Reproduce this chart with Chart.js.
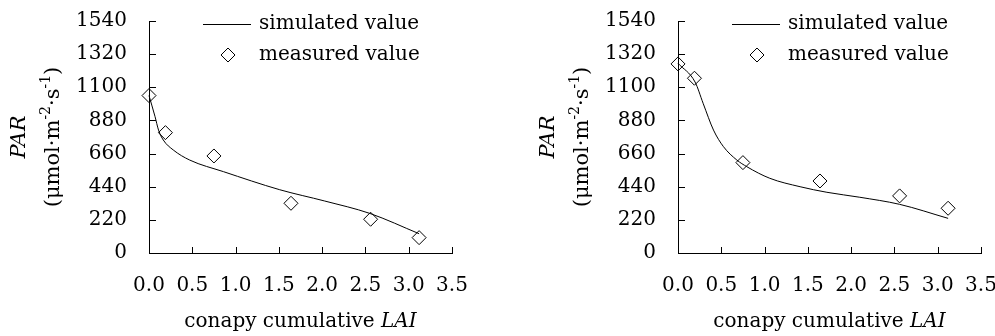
<!DOCTYPE html>
<html>
<head>
<meta charset="utf-8">
<script src="https://cdn.jsdelivr.net/npm/chart.js@4.4.0/dist/chart.umd.min.js"></script>
<style>
  body { margin: 0; width: 995px; height: 336px; overflow: hidden; position: relative; background: #fff; }
  canvas { position: absolute; top: 0; }
</style>
</head>
<body>
<canvas id="chartA" width="480" height="336" style="left:0px"></canvas>
<canvas id="chartB" width="480" height="336" style="left:529px"></canvas>
<script>
// measured points (same LAI depths in both panels)
const measuredLAI = [0.0, 0.19, 0.75, 1.64, 2.56, 3.12];
const measuredA = [1045, 799, 644, 330, 224, 102];
const measuredB = [1255, 1160, 600, 478, 379, 297];

// simulated curves
const simLAI_A = [0.0, 0.07, 0.11, 0.165, 0.28, 0.47, 0.86, 1.51, 2.03, 2.55, 3.12];
const simA = [1045, 905, 816, 750, 684, 617, 540, 420, 345, 263, 128];
const simLAI_B = [0.0, 0.197, 0.29, 0.41, 0.525, 0.68, 0.795, 1.06, 1.41, 1.72, 2.10, 2.56, 3.12];
const simB = [1259, 1135, 994, 816, 706, 617, 573, 496, 440, 403, 370, 323, 230];

const yTicks = [0, 220, 440, 660, 880, 1100, 1320, 1540];
const xTicks = [0.0, 0.5, 1.0, 1.5, 2.0, 2.5, 3.0, 3.5];

const FONT = "'DejaVu Serif', serif";
const FS = 20;

function toPoints(xs, ys) {
  return xs.map((x, i) => ({ x: x, y: ys[i] }));
}

// tick marks pointing into the plot area
const innerTicks = {
  id: "innerTicks",
  afterDraw(chart) {
    const ctx = chart.ctx;
    const area = chart.chartArea;
    const xs = chart.scales.x;
    const ys = chart.scales.y;
    ctx.save();
    ctx.strokeStyle = "#000";
    ctx.lineWidth = 1;
    ctx.beginPath();
    xTicks.forEach((v) => {
      const px = Math.round(xs.getPixelForValue(v)) + 0.5;
      ctx.moveTo(px, area.bottom);
      ctx.lineTo(px, area.bottom - 6);
    });
    yTicks.forEach((v) => {
      const py = Math.round(ys.getPixelForValue(v)) + 0.5;
      ctx.moveTo(area.left, py);
      ctx.lineTo(area.left + 7, py);
    });
    ctx.stroke();
    ctx.restore();
  },
};

// axis titles with italic parts and superscripts
const axisTitles = {
  id: "axisTitles",
  afterDraw(chart) {
    const ctx = chart.ctx;
    const area = chart.chartArea;
    ctx.save();
    ctx.fillStyle = "#000";
    ctx.textBaseline = "middle";

    // x title: "conapy cumulative " + italic "LAI"
    const part1 = "conapy cumulative ";
    const part2 = "LAI";
    ctx.font = FS + "px " + FONT;
    const w1 = ctx.measureText(part1).width;
    ctx.font = "italic " + FS + "px " + FONT;
    const w2 = ctx.measureText(part2).width;
    let x0 = (area.left + area.right) / 2 - (w1 + w2) / 2;
    ctx.textAlign = "left";
    ctx.font = FS + "px " + FONT;
    ctx.fillText(part1, x0, 322);
    ctx.font = "italic " + FS + "px " + FONT;
    ctx.fillText(part2, x0 + w1, 322);

    // y title, rotated
    const cy = 137;
    ctx.translate(area.left - 129, cy);
    ctx.rotate(-Math.PI / 2);
    ctx.textAlign = "center";
    ctx.font = "italic " + (FS + 1) + "px " + FONT;
    ctx.fillText("PAR", 0, 0);

    const pieces = [
      { t: "(μmol·m", sup: false },
      { t: "-2", sup: true },
      { t: "·s", sup: false },
      { t: "-1", sup: true },
      { t: ")", sup: false },
    ];
    const supFont = "14px " + FONT;
    const normFont = (FS + 1) + "px " + FONT;
    let total = 0;
    pieces.forEach((p) => {
      ctx.font = p.sup ? supFont : normFont;
      p.w = ctx.measureText(p.t).width;
      total += p.w;
    });
    let px = -total / 2;
    ctx.textAlign = "left";
    pieces.forEach((p) => {
      ctx.font = p.sup ? supFont : normFont;
      ctx.fillText(p.t, px, p.sup ? 26 : 34);
      px += p.w;
    });
    ctx.restore();
  },
};

// legend in the top right of the plot
const cornerLegend = {
  id: "cornerLegend",
  afterDraw(chart) {
    const ctx = chart.ctx;
    const left = chart.chartArea.left;
    ctx.save();
    ctx.strokeStyle = "#000";
    ctx.lineWidth = 1;
    ctx.beginPath();
    ctx.moveTo(left + 54, 24.5);
    ctx.lineTo(left + 102, 24.5);
    ctx.stroke();
    const dx = left + 79, dy = 55, r = 7;
    ctx.beginPath();
    ctx.moveTo(dx, dy - r);
    ctx.lineTo(dx + r, dy);
    ctx.lineTo(dx, dy + r);
    ctx.lineTo(dx - r, dy);
    ctx.closePath();
    ctx.stroke();
    ctx.fillStyle = "#000";
    ctx.font = FS + "px " + FONT;
    ctx.textAlign = "left";
    ctx.textBaseline = "middle";
    ctx.fillText(chart.data.datasets[0].label, left + 110, 24);
    ctx.fillText(chart.data.datasets[1].label, left + 110, 55);
    ctx.restore();
  },
};

function makeChart(id, simX, simY, measY) {
  const ctx = document.getElementById(id).getContext("2d");
  return new Chart(ctx, {
    type: "scatter",
    data: {
      datasets: [
        {
          label: "simulated value",
          data: toPoints(simX, simY),
          showLine: true,
          borderColor: "#000",
          borderWidth: 1,
          pointRadius: 0,
          cubicInterpolationMode: "monotone",
          clip: false,
        },
        {
          label: "measured value",
          data: toPoints(measuredLAI, measY),
          showLine: false,
          pointStyle: "rectRot",
          pointRadius: 7,
          pointBorderWidth: 1,
          pointBorderColor: "#000",
          pointBackgroundColor: "rgba(0,0,0,0)",
          clip: false,
        },
      ],
    },
    options: {
      responsive: false,
      animation: false,
      layout: { padding: { top: 21, right: 28, left: 0, bottom: 0 } },
      plugins: { legend: { display: false }, tooltip: { enabled: false } },
      scales: {
        x: {
          type: "linear",
          min: 0,
          max: 3.5,
          afterBuildTicks: (scale) => {
            scale.ticks = xTicks.map((v) => ({ value: v }));
          },
          ticks: {
            callback: (v) => Number(v).toFixed(1),
            color: "#000",
            font: { family: FONT, size: FS },
            padding: 21,
            maxRotation: 0,
          },
          grid: { display: true, drawOnChartArea: false, drawTicks: false },
          border: { display: true, color: "#000", width: 1 },
          afterFit: (scale) => {
            scale.height = 83;
            scale.paddingLeft = 0;
            scale.paddingRight = 0;
          },
        },
        y: {
          type: "linear",
          min: 0,
          max: 1540,
          afterBuildTicks: (scale) => {
            scale.ticks = yTicks.map((v) => ({ value: v }));
          },
          ticks: {
            callback: (v) => String(v),
            color: "#000",
            font: { family: FONT, size: FS },
            padding: 22,
          },
          grid: { display: true, drawOnChartArea: false, drawTicks: false },
          border: { display: true, color: "#000", width: 1 },
          afterFit: (scale) => {
            scale.width = 149;
            scale.paddingTop = 0;
            scale.paddingBottom = 0;
          },
        },
      },
    },
    plugins: [innerTicks, axisTitles, cornerLegend],
  });
}

makeChart("chartA", simLAI_A, simA, measuredA);
makeChart("chartB", simLAI_B, simB, measuredB);
</script>
</body>
</html>
